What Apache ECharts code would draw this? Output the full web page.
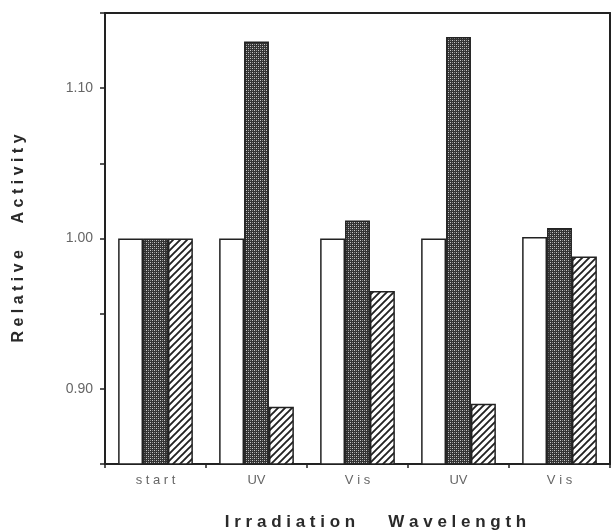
<!DOCTYPE html>
<html>
<head>
<meta charset="utf-8">
<script src="https://cdn.jsdelivr.net/npm/echarts@6/dist/echarts.min.js"></script>
<style>
  html, body { margin: 0; padding: 0; background: #fff; }
  #chart { width: 611px; height: 531px; }
</style>
</head>
<body>
<div id="chart"></div>
<script>
// values
var categories = ['start', 'UV', 'Vis', 'UV', 'Vis'];
var openBars = [1.000, 1.000, 1.000, 1.000, 1.001];
var dottedBars = [1.000, 1.131, 1.012, 1.134, 1.007];
var hatchedBars = [1.000, 0.888, 0.965, 0.890, 0.988];
var yTickLabels = ['0.90', '1.00', '1.10'];

function spaced(s) {
  return s.split('').join(' ');
}

// stipple fill for the middle bar
function dotPattern() {
  var c = document.createElement('canvas');
  c.width = 4; c.height = 4;
  var ctx = c.getContext('2d');
  ctx.fillStyle = '#333';
  ctx.fillRect(0, 0, 4, 4);
  ctx.fillStyle = '#c8c8c8';
  ctx.fillRect(0, 0, 1, 1);
  ctx.fillRect(2, 2, 1, 1);
  ctx.fillStyle = '#8a8a8a';
  ctx.fillRect(2, 0, 1, 1);
  ctx.fillRect(0, 2, 1, 1);
  return c;
}

// diagonal hatch for the right bar
function hatchPattern() {
  var n = 7;
  var c = document.createElement('canvas');
  c.width = n; c.height = n;
  var ctx = c.getContext('2d');
  ctx.fillStyle = '#fff';
  ctx.fillRect(0, 0, n, n);
  ctx.strokeStyle = '#222';
  ctx.lineWidth = 1.9;
  ctx.beginPath();
  ctx.moveTo(-1, n + 1); ctx.lineTo(n + 1, -1);
  ctx.moveTo(-1, 1); ctx.lineTo(1, -1);
  ctx.moveTo(n - 1, n + 1); ctx.lineTo(n + 1, n - 1);
  ctx.stroke();
  return c;
}

var chart = echarts.init(document.getElementById('chart'));

var axisLine = { lineStyle: { color: '#222', width: 2 } };
var border = { borderColor: '#222', borderWidth: 1.5 };

chart.setOption({
  animation: false,
  grid: { left: 105, right: 1, top: 13, bottom: 67, outerBoundsMode: 'none' },
  xAxis: [
    {
      type: 'category',
      data: categories,
      axisLine: axisLine,
      axisTick: { show: true, length: 4, lineStyle: { color: '#222', width: 1.5 } },
      axisLabel: {
        color: '#666', fontSize: 13, fontFamily: 'Liberation Sans', margin: 10,
        formatter: function (v) { return v === 'UV' ? v : spaced(v); }
      },
      name: spaced('Irradiation') + '       ' + spaced('Wavelength'),
      nameLocation: 'middle',
      nameGap: 50,
      nameTextStyle: {
        color: '#2a2a2a', fontSize: 17, fontWeight: 'bold', fontFamily: 'Liberation Sans',
        padding: [0, 0, 0, 36]
      }
    },
    {
      type: 'category',
      position: 'top',
      data: categories,
      axisLine: axisLine,
      axisTick: { show: false },
      axisLabel: { show: false }
    }
  ],
  yAxis: [
    {
      type: 'value',
      min: 0.85,
      max: 1.15,
      interval: 0.05,
      splitLine: { show: false },
      axisLine: { show: true, lineStyle: { color: '#222', width: 2 } },
      axisTick: { show: true, length: 5, lineStyle: { color: '#222', width: 1.5 } },
      axisLabel: {
        color: '#666', fontSize: 14, fontFamily: 'Liberation Sans', margin: 12,
        formatter: function (v) {
          var s = v.toFixed(2);
          return yTickLabels.indexOf(s) >= 0 ? s : '';
        }
      },
      name: spaced('Relative') + '      ' + spaced('Activity'),
      nameLocation: 'middle',
      nameGap: 78,
      nameTextStyle: {
        color: '#2a2a2a', fontSize: 16, fontWeight: 'bold', fontFamily: 'Liberation Sans'
      }
    },
    {
      type: 'value',
      position: 'right',
      min: 0.85,
      max: 1.15,
      interval: 0.05,
      splitLine: { show: false },
      axisLine: { show: true, lineStyle: { color: '#222', width: 2 } },
      axisTick: { show: false },
      axisLabel: { show: false }
    }
  ],
  series: [
    {
      type: 'bar',
      data: openBars,
      barGap: '0%',
      barCategoryGap: '26%',
      itemStyle: Object.assign({ color: '#fff' }, border)
    },
    {
      type: 'bar',
      data: dottedBars,
      itemStyle: Object.assign({ color: { image: dotPattern(), repeat: 'repeat' } }, border)
    },
    {
      type: 'bar',
      data: hatchedBars,
      itemStyle: Object.assign({ color: { image: hatchPattern(), repeat: 'repeat' } }, border)
    }
  ]
});
</script>
</body>
</html>
